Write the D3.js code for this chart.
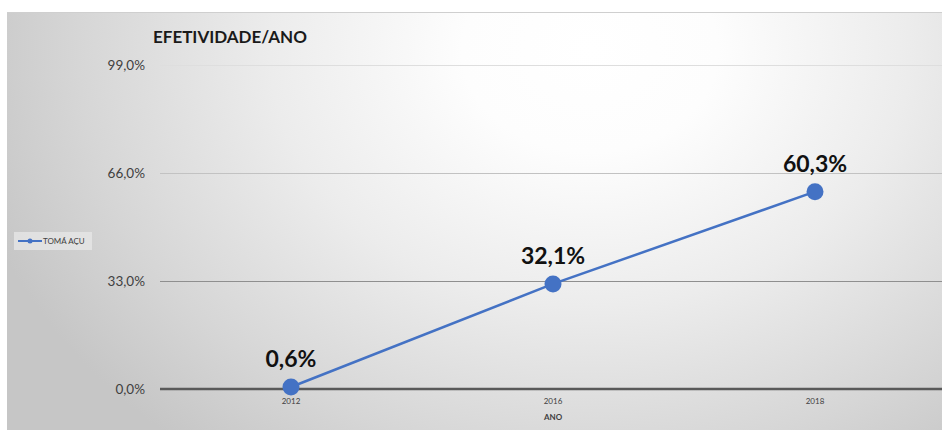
<!DOCTYPE html>
<html>
<head>
<meta charset="utf-8">
<script src="https://cdn.jsdelivr.net/npm/d3@7"></script>
<style>
  html, body { margin: 0; padding: 0; background: #ffffff; }
  svg { display: block; }
</style>
</head>
<body>
<svg id="chart" width="942" height="430"></svg>
<script>
// Efetividade por ano — Tomá Açu
const years = ["2012", "2016", "2018"];
const efetividade = [0.6, 32.1, 60.3];
const yTicks = [0, 33, 66, 99];
const seriesName = "TOMÁ AÇU";
const chartTitle = "EFETIVIDADE/ANO";
const xTitle = "ANO";

const W = 942, H = 430;
const svg = d3.select("#chart");
const FONT = "Lato, 'Open Sans', sans-serif";
const fmt = v => v.toFixed(1).replace(".", ",") + "%";

// chart area background with soft radial shading
const defs = svg.append("defs");
const grad = defs.append("radialGradient")
  .attr("id", "bg")
  .attr("gradientUnits", "userSpaceOnUse")
  .attr("cx", 590).attr("cy", 50).attr("r", 640)
  .attr("gradientTransform", "translate(590,50) scale(1,0.8) translate(-590,-50)");
grad.append("stop").attr("offset", 0).attr("stop-color", "#ffffff");
grad.append("stop").attr("offset", 0.2).attr("stop-color", "#fdfdfd");
grad.append("stop").attr("offset", 0.5).attr("stop-color", "#ececec");
grad.append("stop").attr("offset", 0.8).attr("stop-color", "#d6d6d6");
grad.append("stop").attr("offset", 1).attr("stop-color", "#c6c6c6");

svg.append("rect")
  .attr("x", 7).attr("y", 12).attr("width", W - 7).attr("height", H - 12)
  .attr("fill", "url(#bg)");
svg.append("line")
  .attr("x1", 7).attr("x2", W).attr("y1", 12.5).attr("y2", 12.5)
  .attr("stroke", "#cfcfcf").attr("stroke-width", 1);

// scales
const x = d3.scaleBand().domain(years).range([160, 946]).padding(0);
const y = d3.scaleLinear().domain([0, 99]).range([389, 65]);
const cx = d => x(d) + x.bandwidth() / 2;

// value axis labels
const gridColor = d3.scaleOrdinal().domain(yTicks.slice(1)).range(["#8f8f8f", "#c2c2c2", "#dedede"]);
const yAxis = d3.axisLeft(y).tickValues(yTicks).tickFormat(fmt).tickSize(0).tickPadding(0);
const gy = svg.append("g").attr("transform", "translate(145,0)").call(yAxis);
gy.select(".domain").remove();
gy.selectAll("text")
  .attr("font-family", FONT).attr("font-size", 13.5).attr("fill", "#404040")
  .attr("dy", "0.35em");

// horizontal gridlines
svg.append("g").selectAll("line")
  .data(yTicks.filter(t => t > 0))
  .join("line")
  .attr("x1", 160).attr("x2", W)
  .attr("y1", d => Math.round(y(d)) + 0.5).attr("y2", d => Math.round(y(d)) + 0.5)
  .attr("stroke", d => gridColor(d)).attr("stroke-width", 1);

// category axis (baseline)
const xAxis = d3.axisBottom(x).tickSize(0).tickPadding(9);
const gx = svg.append("g").attr("transform", `translate(0,${y(0)})`).call(xAxis);
gx.select(".domain").remove();
gx.selectAll("text")
  .attr("font-family", FONT).attr("font-size", 8).attr("fill", "#404040");
svg.append("line")
  .attr("x1", 160).attr("x2", W)
  .attr("y1", y(0)).attr("y2", y(0))
  .attr("stroke", "#595959").attr("stroke-width", 2.5);

// axis title
svg.append("text")
  .attr("x", cx("2016")).attr("y", 420)
  .attr("text-anchor", "middle")
  .attr("font-family", FONT).attr("font-size", 8).attr("font-weight", 700).attr("fill", "#404040")
  .text(xTitle);

// chart title
svg.append("text")
  .attr("x", 153).attr("y", 43)
  .attr("font-family", FONT).attr("font-size", 17).attr("font-weight", 700).attr("fill", "#1a1a1a")
  .text(chartTitle);

// series line and markers
const pts = years.map((yr, i) => ({ yr, v: efetividade[i] }));
const line = d3.line().x(d => cx(d.yr)).y(d => y(d.v));
svg.append("path")
  .datum(pts)
  .attr("d", line)
  .attr("fill", "none").attr("stroke", "#4472c4").attr("stroke-width", 2.5);
svg.append("g").selectAll("circle")
  .data(pts).join("circle")
  .attr("cx", d => cx(d.yr)).attr("cy", d => y(d.v)).attr("r", 8.5)
  .attr("fill", "#4472c4");

// data labels
svg.append("g").selectAll("text")
  .data(pts).join("text")
  .attr("x", d => cx(d.yr)).attr("y", d => y(d.v) - 20)
  .attr("text-anchor", "middle")
  .attr("font-family", FONT).attr("font-size", 23).attr("font-weight", 700).attr("fill", "#111111")
  .text(d => fmt(d.v));

// legend
const lg = svg.append("g").attr("transform", "translate(14,232)");
lg.append("rect").attr("width", 78).attr("height", 18).attr("fill", "#e6e6e6").attr("opacity", 0.8);
lg.append("line").attr("x1", 4).attr("x2", 28).attr("y1", 9).attr("y2", 9)
  .attr("stroke", "#4472c4").attr("stroke-width", 2);
lg.append("circle").attr("cx", 16).attr("cy", 9).attr("r", 2.5).attr("fill", "#4472c4");
lg.append("text").attr("x", 29).attr("y", 12)
  .attr("font-family", FONT).attr("font-size", 8).attr("fill", "#404040")
  .text(seriesName);
</script>
</body>
</html>
